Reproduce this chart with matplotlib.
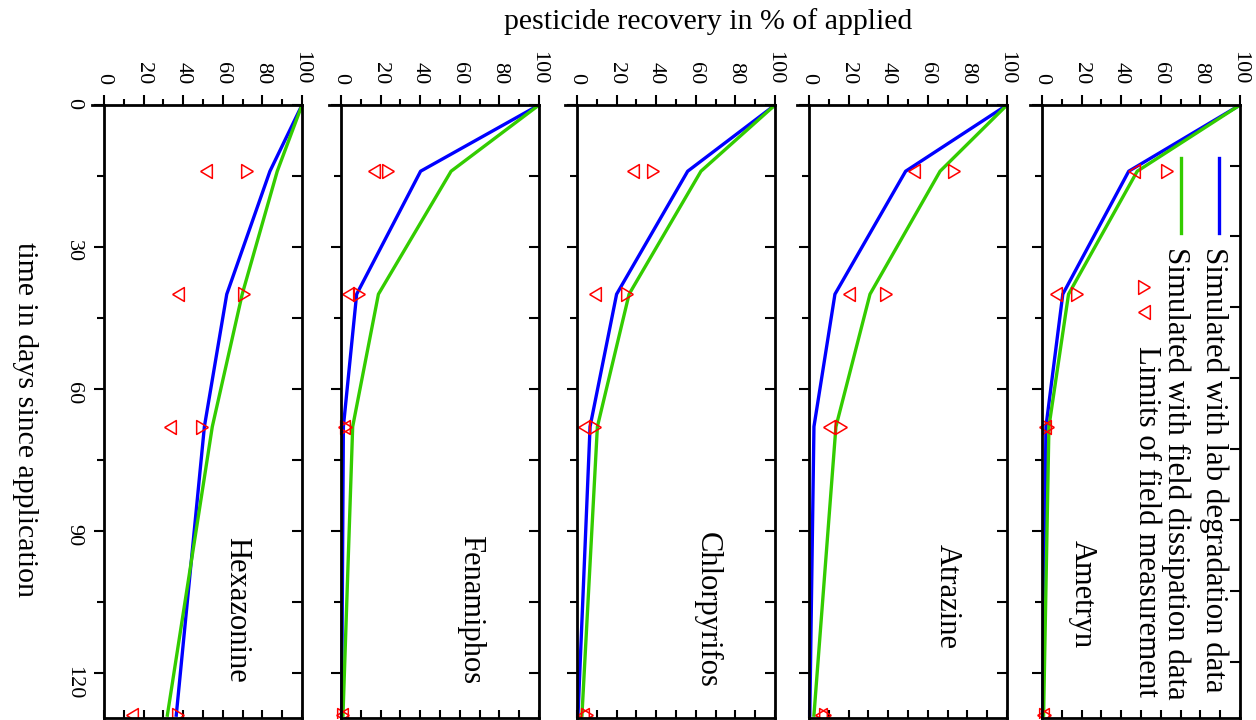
import matplotlib.pyplot as plt
from matplotlib.ticker import MultipleLocator

plt.rcParams['font.family'] = ['Liberation Serif', 'DejaVu Serif']

# sampling days of the simulated curves and of the field limits
days = [0, 14, 40, 68, 129]
limit_days = [14, 40, 68, 129]

compounds = ["Ametryn", "Atrazine", "Chlorpyrifos", "Fenamiphos", "Hexazonine"]

# recovery in % of applied
lab_ametryn = [100, 43.8, 10.5, 2.0, 0.3]
field_ametryn = [100, 48.1, 13.4, 3.5, 0.8]
low_ametryn = [46.7, 7.3, 1.5, 0.5]
high_ametryn = [63.0, 17.6, 3.0, 1.5]

lab_atrazine = [100, 48.8, 13.1, 2.5, 0.4]
field_atrazine = [100, 66.2, 30.8, 13.6, 2.5]
low_atrazine = [53.2, 20.0, 9.9, 6.0]
high_atrazine = [73.1, 38.7, 16.2, 8.0]

lab_chlorpyrifos = [100, 55.9, 20.0, 6.6, 0.5]
field_chlorpyrifos = [100, 62.6, 26.3, 10.3, 2.5]
low_chlorpyrifos = [28.1, 9.3, 3.5, 3.0]
high_chlorpyrifos = [38.2, 25.3, 8.9, 5.0]

lab_fenamiphos = [100, 40.2, 7.9, 1.2, 0.3]
field_fenamiphos = [100, 55.6, 18.9, 5.9, 1.0]
low_fenamiphos = [16.7, 3.4, 1.5, 0.5]
high_fenamiphos = [23.9, 9.1, 2.5, 1.0]

lab_hexazonine = [100, 83.8, 62.0, 50.7, 36.5]
field_hexazonine = [100, 87.5, 69.8, 54.7, 32.0]
low_hexazonine = [51.3, 37.5, 33.3, 14.0]
high_hexazonine = [72.0, 70.9, 49.7, 37.5]

lab = [lab_ametryn, lab_atrazine, lab_chlorpyrifos, lab_fenamiphos, lab_hexazonine]
field = [field_ametryn, field_atrazine, field_chlorpyrifos, field_fenamiphos, field_hexazonine]
low = [low_ametryn, low_atrazine, low_chlorpyrifos, low_fenamiphos, low_hexazonine]
high = [high_ametryn, high_atrazine, high_chlorpyrifos, high_fenamiphos, high_hexazonine]

label_pos = [(20.5, 103.4), (70.0, 104.0), (66.0, 106.8), (65.2, 106.6), (67.0, 106.8)]

BLUE = '#0000ff'
GREEN = '#33cc00'
RED = '#ff0000'

# slightly narrow triangles, as in the original
TRI_LEFT = [(-0.84, 0), (0.84, 1), (0.84, -1), (-0.84, 0)]
TRI_RIGHT = [(0.84, 0), (-0.84, 1), (-0.84, -1), (0.84, 0)]
MK = dict(ls='none', ms=10, mfc='none', mec=RED, mew=1.1)

W, H = 1256, 720
PX = 1.98          # pixels per % recovery
TOP, BOT = 105, 718
panel_x0 = [1042, 809, 577, 341, 104]
XMIN = -6
TMAX = (BOT - TOP) / 4.73

fig = plt.figure(figsize=(W / 100, H / 100), dpi=100)

for i, name in enumerate(compounds):
    x0 = panel_x0[i]
    ax = fig.add_axes([(x0 + XMIN * PX) / W, 1 - BOT / H, (100 - XMIN) * PX / W, (BOT - TOP) / H])
    ax.set_xlim(XMIN, 100)
    ax.set_ylim(TMAX, 0)

    ax.plot(lab[i], days, color=BLUE, lw=2.4)
    ax.plot(field[i], days, color=GREEN, lw=2.4)
    ax.plot(low[i], limit_days, marker=TRI_LEFT, **MK)
    ax.plot(high[i], limit_days, marker=TRI_RIGHT, **MK)

    for s in ax.spines.values():
        s.set_linewidth(2.0)
    ax.spines['left'].set_position(('data', 0))
    ax.spines['bottom'].set_bounds(0, 100)

    # recovery axis (top)
    ax.xaxis.set_ticks_position('top')
    ax.xaxis.set_major_locator(MultipleLocator(20))
    ax.xaxis.set_minor_locator(MultipleLocator(10))
    ax.tick_params(axis='x', which='both', direction='out', width=1.5, labelsize=16,
                   labelrotation=-90, pad=8)
    ax.tick_params(axis='x', which='major', length=7)
    ax.tick_params(axis='x', which='minor', length=4.5)

    # time axis (left)
    ax.yaxis.set_ticks_position('left')
    ax.yaxis.set_major_locator(MultipleLocator(30))
    ax.yaxis.set_minor_locator(MultipleLocator(15))
    ax.tick_params(axis='y', which='both', direction='out', width=1.5, labelsize=16,
                   labelrotation=-90, pad=8, labelleft=(i == 4))
    ax.tick_params(axis='y', which='major', length=7.2)
    ax.tick_params(axis='y', which='minor', length=5)

    # inward ticks on right and bottom
    if i == 0:
        sy = ax.secondary_yaxis('right', functions=(lambda t: t + 2.2, lambda t: t - 2.2))
    else:
        sy = ax.secondary_yaxis('right')
    sy.spines['right'].set_visible(False)
    sy.yaxis.set_major_locator(MultipleLocator(15))
    sy.tick_params(axis='y', direction='in', length=7, width=1.5, labelright=False)

    sx = ax.secondary_xaxis('bottom')
    sx.spines['bottom'].set_visible(False)
    sx.xaxis.set_major_locator(MultipleLocator(10))
    sx.tick_params(axis='x', direction='in', length=6, width=1.5, labelbottom=False)

    lx, lt = label_pos[i]
    ax.text(lx, lt, name, rotation=-90, ha='center', va='center', fontsize=22)

    if i == 0:
        ax.plot([89.3, 89.3], [11.2, 27.1], color=BLUE, lw=2.4)
        ax.plot([70.0, 70.0], [11.2, 27.1], color=GREEN, lw=2.4)
        ax.plot([51.3], [38.5], marker=TRI_RIGHT, **MK)
        ax.plot([51.3], [43.8], marker=TRI_LEFT, **MK)
        ax.text(86.5, 30.0, "Simulated with lab degradation data", rotation=-90,
                ha='center', va='top', fontsize=22.2)
        ax.text(67.5, 30.0, "Simulated with field dissipation data", rotation=-90,
                ha='center', va='top', fontsize=22.2)
        ax.text(53.0, 88.0, "Limits of field measurement", rotation=-90,
                ha='center', va='center', fontsize=22.2)

fig.text(708 / W, 1 - 22 / H, "pesticide recovery in % of applied",
         ha='center', va='center', fontsize=21.5)
fig.text(25 / W, 1 - 420 / H, "time in days since application", rotation=-90,
         ha='center', va='center', fontsize=21.5)

fig.savefig("out.png", dpi=100)
